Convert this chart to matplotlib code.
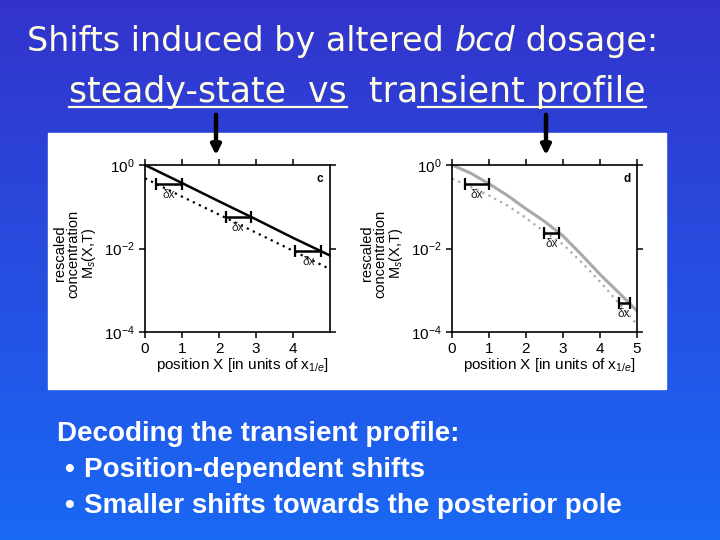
import numpy as np
import matplotlib
matplotlib.use('Agg')
import matplotlib.pyplot as plt
from matplotlib.patches import Rectangle
from matplotlib.ticker import NullLocator

plt.rcParams['font.family'] = ['Liberation Sans', 'DejaVu Sans']
plt.rcParams['mathtext.fontset'] = 'custom'
plt.rcParams['mathtext.rm'] = 'Liberation Sans'
plt.rcParams['mathtext.it'] = 'Liberation Sans:italic'

# --- data ---
# panel c: steady-state profile (wild type vs reduced dosage)
x_steady = [0, 1, 2, 3, 4, 5]
steady_wt = [1.0, 0.37, 0.135, 0.05, 0.018, 0.0068]
steady_low = [0.48, 0.175, 0.065, 0.024, 0.0088, 0.0032]
steady_bar_lo = [0.30, 2.18, 4.06]
steady_bar_hi = [1.00, 2.86, 4.77]
steady_bar_y = [0.36, 0.057, 0.0089]

# panel d: transient profile
x_trans = [0, 0.5, 1, 1.5, 2, 2.5, 3, 3.5, 4, 4.5, 5]
trans_wt = [1.0, 0.64, 0.355, 0.186, 0.089, 0.0447, 0.020, 0.0071, 0.0024, 0.00089, 0.00032]
trans_low = [0.47, 0.30, 0.186, 0.107, 0.054, 0.025, 0.0126, 0.0047, 0.0016, 0.0005, 0.00015]
trans_bar_lo = [0.35, 2.49, 4.50]
trans_bar_hi = [1.00, 2.90, 4.80]
trans_bar_y = [0.355, 0.024, 0.0005]

title_pieces = [("Shifts induced by altered ", 'normal'), ("bcd", 'italic'), (" dosage:", 'normal')]
bullets = ["Position-dependent shifts", "Smaller shifts towards the posterior pole"]

fig = plt.figure(figsize=(7.2, 5.4), dpi=100)

# background: slide gradient, coords in pixels
bg = fig.add_axes([0, 0, 1, 1])
bg.set_xlim(0, 720)
bg.set_ylim(540, 0)
bg.axis('off')
top = np.array([0.20, 0.20, 0.80])
bot = np.array([0.10, 0.41, 0.96])
t = np.linspace(0, 1, 256)[:, None, None]
grad = top * (1 - t) + bot * t
grad = np.repeat(grad, 2, axis=1)
bg.imshow(grad, extent=[0, 720, 540, 0], aspect='auto', zorder=0)
bg.add_patch(Rectangle((48, 133), 618, 256, color='white', zorder=1))

renderer = fig.canvas.get_renderer()
cream = '#fffde2'
tfont = 'DejaVu Sans'


def run(x, y, pieces, size):
    spans = []
    for txt, style in pieces:
        tx = bg.text(x, y, txt, fontsize=size, color=cream, style=style,
                     family=tfont, va='baseline', zorder=3)
        w = tx.get_window_extent(renderer).width
        spans.append((x, x + w))
        x += w
    return spans


run(27, 51, title_pieces, 24)
sp = run(69, 102, [("steady-state  vs", 'normal'), ("  tra", 'normal'),
                   ("nsient profile", 'normal')], 25)
for a, b in (sp[0], sp[2]):
    bg.plot([a, b], [106.5, 106.5], color=cream, lw=1.6, zorder=3)

# arrows
for ax_x in (216, 546):
    bg.annotate('', xy=(ax_x, 158), xytext=(ax_x, 112),
                arrowprops=dict(arrowstyle='-|>', lw=3.2, color='black',
                                mutation_scale=14), zorder=5)

# bottom text
bg.text(57, 441, "Decoding the transient profile:", fontsize=20,
        fontweight='bold', color='white', va='baseline')
for i, line in enumerate(bullets):
    yb = 477 + 36 * i
    bg.text(64, yb, "\u2022", fontsize=20, fontweight='bold', color='white', va='baseline')
    bg.text(84, yb, line, fontsize=20, fontweight='bold', color='white', va='baseline')


def panel(rect, xs, wt, low, lo, hi, yb, line_col, letter, xticks):
    ax = fig.add_axes(rect)
    ax.plot(xs, wt, color=line_col, lw=1.8 if line_col == 'black' else 2.2)
    ax.plot(xs, low, color=line_col, lw=1.6, linestyle=(0, (1, 2)))
    for a, b, y in zip(lo, hi, yb):
        ax.errorbar([(a + b) / 2], [y], xerr=[[(b - a) / 2]], fmt='none',
                    ecolor='black', elinewidth=1.8, capsize=4, capthick=1.6)
        ax.annotate('\u03b4x', ((a + b) / 2, y), xytext=(0, -8),
                    textcoords='offset points', ha='center', va='center',
                    fontsize=8.5, color='#222222')
    ax.set_yscale('log')
    ax.set_ylim(1e-4, 1)
    ax.set_xlim(0, 5)
    ax.set_yticks([1e-4, 1e-2, 1])
    ax.yaxis.set_minor_locator(NullLocator())
    ax.set_xticks(xticks)
    ax.tick_params(direction='out', length=4, width=1.1, labelsize=11,
                   top=True, right=True, colors='black')
    for s in ax.spines.values():
        s.set_linewidth(1.2)
    ax.text(0.965, 0.955, letter, transform=ax.transAxes, ha='right', va='top',
            fontsize=8.5, fontweight='bold')
    ax.text(-0.375, 0.47, "rescaled\nconcentration\nM$_s$(X,T)", rotation=90,
            transform=ax.transAxes, ha='center', va='center',
            multialignment='center', fontsize=10.5, linespacing=0.95)
    ax.text(0.525, -0.2, "position X [in units of x$_{1/e}$]",
            transform=ax.transAxes, ha='center', va='center', fontsize=11)
    return ax


panel([145 / 720, 1 - 332 / 540, 185 / 720, 167 / 540], x_steady, steady_wt,
      steady_low, steady_bar_lo, steady_bar_hi, steady_bar_y, 'black', 'c',
      [0, 1, 2, 3, 4])
panel([452 / 720, 1 - 332 / 540, 185 / 720, 167 / 540], x_trans, trans_wt,
      trans_low, trans_bar_lo, trans_bar_hi, trans_bar_y, '#a9a9a9', 'd',
      [0, 1, 2, 3, 4, 5])

fig.savefig('out.png', dpi=100)
